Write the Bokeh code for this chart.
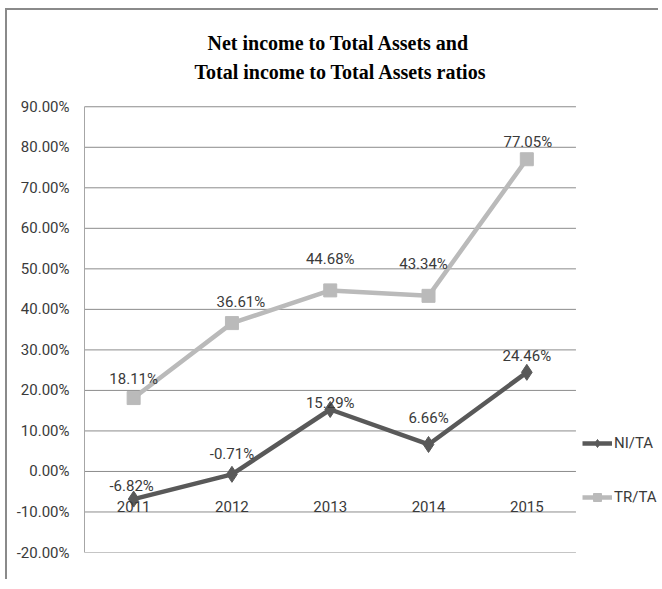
from bokeh.plotting import figure
from bokeh.models import (Legend, LegendItem, FixedTicker, PrintfTickFormatter,
                          ColumnDataSource, Range1d, LinearAxis, Title)
from bokeh.embed import file_html
from bokeh.resources import INLINE
from bokeh.core.properties import value

# ---- data ----
years = ["2011", "2012", "2013", "2014", "2015"]
ni_ta = [-6.82, -0.71, 15.29, 6.66, 24.46]
tr_ta = [18.11, 36.61, 44.68, 43.34, 77.05]
y_ticks = [-20, -10, 0, 10, 20, 30, 40, 50, 60, 70, 80, 90]
series_names = ["NI/TA", "TR/TA"]
title_lines = ["Net income to Total Assets and", "Total income to Total Assets ratios"]

# label nudges (screen px) for data labels
ni_dx = [-2, 0, 0, 0, 0]
ni_dy = [-13, -20, -6, -26, -16]
tr_dx = [0, 9, 0, -5, 1]
tr_dy = [-19, -21, -31, -32, -17]

NI_COLOR = "#595959"
TR_COLOR = "#bababa"
GRID = "#8c8c8c"
TXT = "#3a3a3a"
FONT = "Roboto"
FS = "15px"

x_idx = list(range(len(years)))          # category slots
cat_lo = x_idx[0] - 0.5                   # left edge of first category slot
cat_hi = x_idx[-1] + 0.5                  # right edge of last category slot
legend_room = 0.86                        # extra room (in slots) for the legend
head_room = 5                             # space above the top gridline (data units)

p = figure(width=653, height=571, x_range=Range1d(cat_lo, cat_hi + legend_room),
           y_range=Range1d(y_ticks[0], y_ticks[-1] + head_room),
           output_backend="svg", toolbar_location=None,
           min_border_left=77, min_border_right=0, min_border_top=76, min_border_bottom=29,
           x_axis_location=None)
p.margin = (8, 0, 0, 5)
p.styles = {"border-left": "2px solid #8a8a8a", "border-top": "2px solid #8a8a8a"}
p.outline_line_color = None
p.background_fill_color = "white"
p.border_fill_color = "white"

t2 = Title(text=title_lines[1], align="left", text_font="Liberation Serif",
           text_font_style="bold", text_font_size="20px", text_color="black",
           standoff=8, offset=110)
t1 = Title(text=title_lines[0], align="left", text_font="Liberation Serif",
           text_font_style="bold", text_font_size="20px", text_color="black",
           standoff=2, offset=123)
p.add_layout(t2, "above")
p.add_layout(t1, "above")

# y axis
p.yaxis.ticker = FixedTicker(ticks=y_ticks)
p.yaxis.bounds = (y_ticks[0], y_ticks[-1])
p.yaxis.formatter = PrintfTickFormatter(format="%.2f%%")
p.yaxis.major_label_text_font = FONT
p.yaxis.major_label_text_font_size = FS
p.yaxis.major_label_text_color = TXT
p.yaxis.major_tick_line_color = None
p.yaxis.minor_tick_line_color = None
p.yaxis.axis_line_color = "#a6a6a6"
p.yaxis.major_label_standoff = 9

p.xgrid.grid_line_color = None
p.ygrid.grid_line_color = None

# horizontal gridlines, only across the category area
p.segment(x0=[cat_lo] * len(y_ticks), x1=[cat_hi] * len(y_ticks), y0=y_ticks, y1=y_ticks,
          line_color=GRID, line_width=1)

# x axis crossing at 0
xa = LinearAxis(fixed_location=0, ticker=FixedTicker(ticks=x_idx),
                major_label_overrides={i: y for i, y in zip(x_idx, years)})
xa.axis_line_color = None
xa.major_tick_line_color = None
xa.minor_tick_line_color = None
xa.major_label_standoff = 24
xa.major_label_text_font = FONT
xa.major_label_text_font_size = FS
xa.major_label_text_color = TXT
p.add_layout(xa, "below")

src = ColumnDataSource(dict(
    x=x_idx, years=years, ni=ni_ta, tr=tr_ta,
    ni_lab=[f"{v:.2f}%" for v in ni_ta], tr_lab=[f"{v:.2f}%" for v in tr_ta],
    ni_dx=ni_dx, ni_dy=ni_dy, tr_dx=tr_dx, tr_dy=tr_dy))

tr_line = p.line("x", "tr", source=src, line_color=TR_COLOR, line_width=4.5)
tr_mark = p.scatter("x", "tr", source=src, marker="square", size=13,
                    fill_color=TR_COLOR, line_color=TR_COLOR)
ni_line = p.line("x", "ni", source=src, line_color=NI_COLOR, line_width=4.5)
ni_mark = p.scatter("x", "ni", source=src, marker="diamond", size=16,
                    fill_color=NI_COLOR, line_color=NI_COLOR)

p.text("x", "tr", text="tr_lab", source=src, x_offset="tr_dx", y_offset="tr_dy",
       text_align="center", text_baseline="middle", text_font=value(FONT),
       text_font_size=FS, text_color=TXT)
p.text("x", "ni", text="ni_lab", source=src, x_offset="ni_dx", y_offset="ni_dy",
       text_align="center", text_baseline="middle", text_font=value(FONT),
       text_font_size=FS, text_color=TXT)

legend = Legend(items=[LegendItem(label=series_names[0], renderers=[ni_line, ni_mark]),
                       LegendItem(label=series_names[1], renderers=[tr_line, tr_mark])],
                location=(498, 45), orientation="vertical",
                padding=0, margin=0, spacing=34, glyph_width=30, glyph_height=20,
                label_height=20, label_standoff=2,
                label_text_font=FONT, label_text_font_size=FS, label_text_color=TXT,
                border_line_color=None, background_fill_alpha=0)
p.add_layout(legend, "center")

open("out.html", "w").write(file_html(p, INLINE))
